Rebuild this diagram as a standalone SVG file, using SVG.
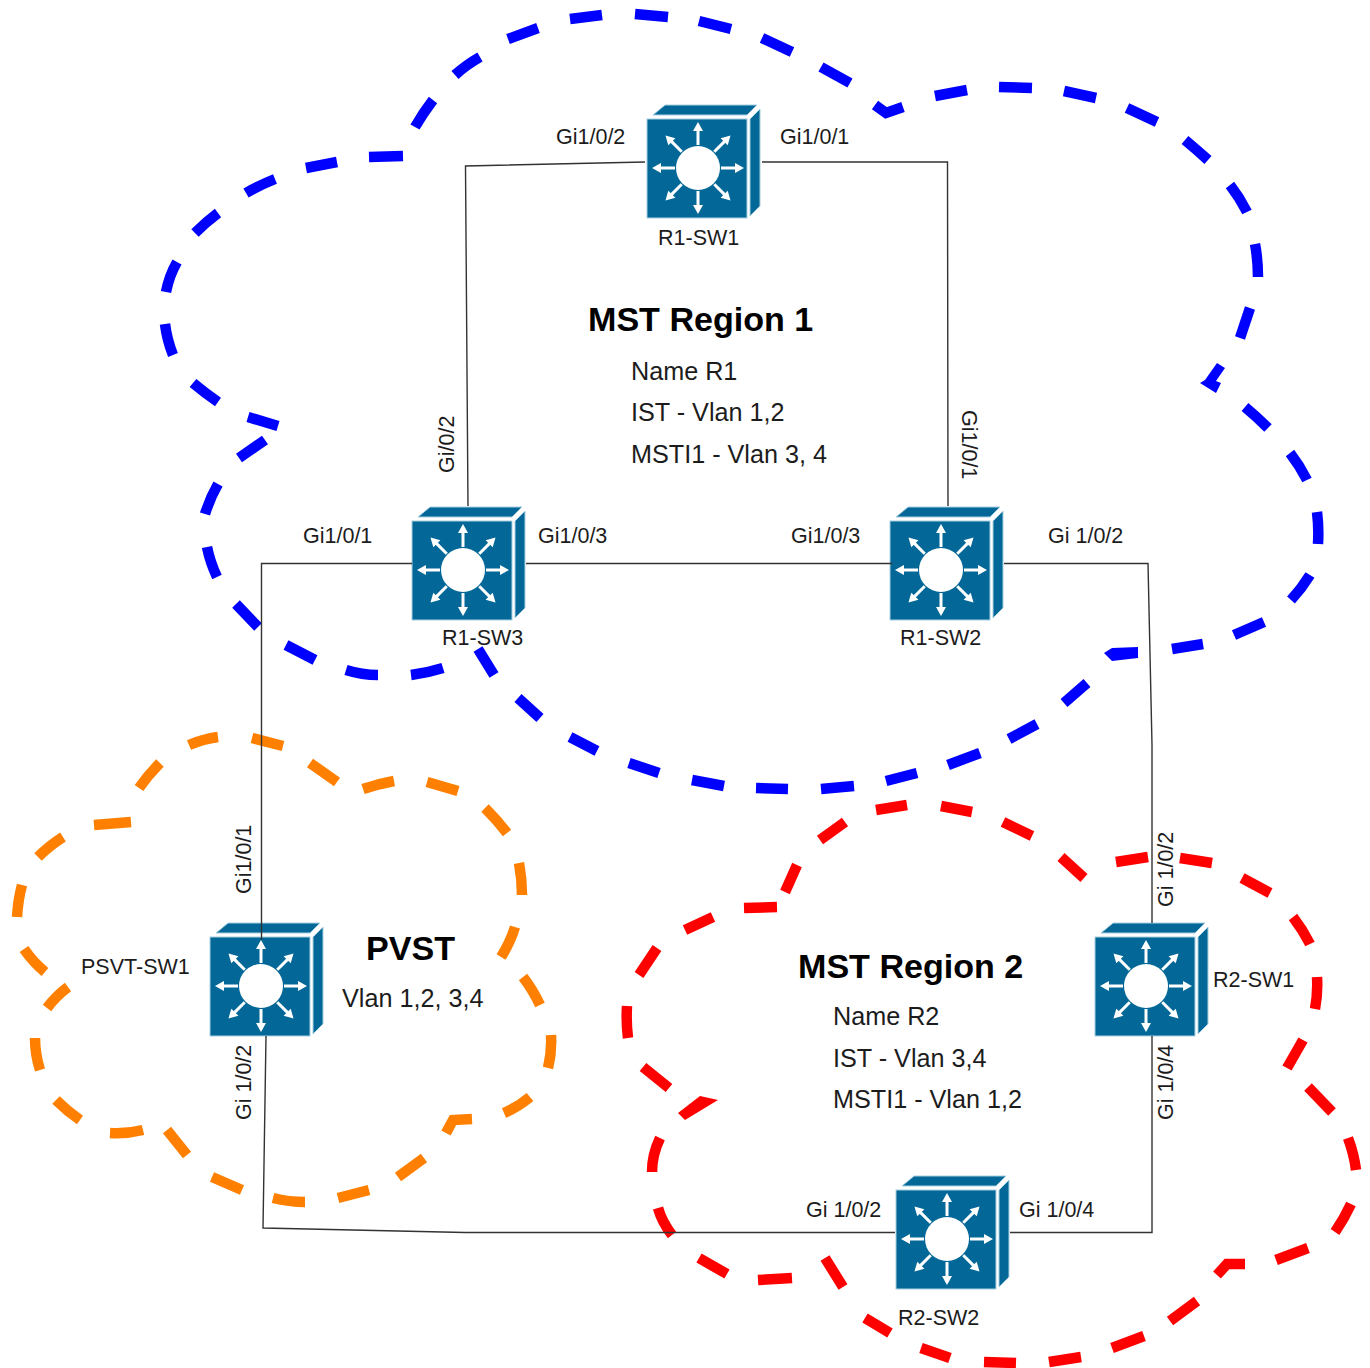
<svg xmlns="http://www.w3.org/2000/svg" xmlns:xlink="http://www.w3.org/1999/xlink" width="1370" height="1368" viewBox="0 0 1370 1368">
<style>
text{font-family:"Liberation Sans",Arial,Helvetica,sans-serif;fill:#1c1c1c;font-size:21.5px}
text.t{font-size:25.2px}
text.h{font-size:34.100px;font-weight:bold;fill:#000}
.cloud{fill:none;stroke-width:10.500;stroke-linecap:butt;stroke-linejoin:miter}
.blue{stroke:#0000ff}.orange{stroke:#ff8000}.red{stroke:#ff0000}
.fblue{fill:#0000ff}.fred{fill:#ff0000}
.link{fill:none;stroke:#333;stroke-width:1.4}
.sw{fill:#036897;stroke:#a8d0e2;stroke-width:1}
</style>
<defs>
<g id="arrow"><rect x="-1.500" y="-38" width="3" height="15" fill="#fff"/><polygon points="0,-46 -5,-37 5,-37" fill="#fff"/></g>
<g id="switch">
<polygon class="sw" points="-45,-53 -33,-63 59,-63 49,-53"/>
<polygon class="sw" points="52,-49 62,-59 62,38 52,48"/>
<rect class="sw" x="-51" y="-49" width="100" height="99"/>
<circle r="22" fill="#fff"/>
<use xlink:href="#arrow"/><use xlink:href="#arrow" transform="rotate(45)"/><use xlink:href="#arrow" transform="rotate(90)"/><use xlink:href="#arrow" transform="rotate(135)"/><use xlink:href="#arrow" transform="rotate(180)"/><use xlink:href="#arrow" transform="rotate(225)"/><use xlink:href="#arrow" transform="rotate(270)"/><use xlink:href="#arrow" transform="rotate(315)"/>
</g>
</defs>
<rect width="1370" height="1368" fill="#fff"/>
<g id="regions">
<path id="cloud-r1" class="cloud blue" d="M538,28L508,39M480,57Q466,65 455,75M433,100Q423,113 415,127M403,156L369,157M337,162L306,168M275,179Q260,185 246,193M218,213Q206,222 195,233M177,262Q169,276 166,292M165,324Q167,340 173,355M193,383Q205,393 218,402M248,417L278,426M265,440L239,458M218,484Q210,498 205,514M207,547Q210,562 217,577M236,604L258,627M286,645L315,660M346,670Q362,675 378,675M411,675Q427,673 443,668M478,649L494,675M518,698L540,718M570,737L597,751M629,763L659,773M692,780L724,786M756,788L788,789M821,789L854,786M886,781L917,773M948,765L980,753M1009,739L1037,724M1064,703L1087,683M1172,649L1203,644M1234,635L1264,622M1291,600Q1302,588 1310,575M1318,544Q1319,528 1317,512M1307,480Q1300,466 1290,453M1268,428Q1257,417 1245,407M1250,308L1240,338M1258,277Q1258,260 1255,244M1247,212Q1240,198 1230,185M1208,160Q1197,150 1185,140M1157,122L1127,108M1096,98L1064,91M1032,88L999,87M967,90L935,96M903,107L886,113L875,105M850,83L821,67M792,52L762,38M731,29L699,21M668,17L635,14M602,15L570,19"/>
<polygon class="fblue" points="1104,653 1112,648 1138,647 1138,658 1112,661"/>
<polygon class="fblue" points="1217,363 1225,368 1216,381 1221,383 1216,393 1200,383 1205,380"/>
<path id="cloud-pvst" class="cloud orange" d="M189,745Q203,739 218,737M252,738L283,746M310,763L337,782M363,789Q378,784 394,781M427,782L458,791M485,808Q497,820 507,833M519,863Q522,879 522,895M515,927Q510,943 501,957M523,977Q533,990 540,1005M551,1035Q552,1052 548,1068M530,1097Q518,1107 504,1113M472,1119L453,1120L446,1133M424,1158L398,1177M369,1190L338,1198M305,1202Q289,1202 273,1198M242,1190L212,1177M187,1155L167,1130M143,1130Q127,1134 110,1133M80,1120Q67,1111 56,1100M40,1070Q35,1054 35,1038M68,987Q56,996 47,1008M45,972Q33,962 24,949M17,917Q18,900 22,885M38,857Q49,846 63,837M94,825L131,822M139,788Q148,775 160,763"/>
<path id="cloud-r2" class="cloud red" d="M907,805L876,810M972,812L941,806M1032,836L1003,822M1061,857L1084,878M1116,862L1148,857M1180,858L1212,863M1242,878L1270,893M1293,917Q1303,930 1310,944M1317,977Q1318,993 1315,1009M1303,1040L1287,1068M1308,1087L1332,1112M1348,1138Q1354,1154 1356,1170M1351,1204Q1344,1219 1335,1232M1308,1248L1276,1260M1245,1264L1227,1264L1217,1275M1197,1301L1170,1321M1144,1336L1112,1348M1081,1357L1049,1362M1016,1363L984,1362M950,1358L921,1348M890,1333L865,1318M843,1287L825,1258M792,1278L758,1280M727,1274L699,1258M672,1235Q662,1222 658,1208M652,1172Q652,1155 660,1138M669,1088L643,1067M628,1038Q626,1022 627,1006M639,975L657,948M685,930L713,917M744,908L777,907M785,892L797,865M820,840L845,822"/>
<polygon class="fred" points="700,1096 718,1100 685,1120 678,1113"/>
</g>
<g id="R1-SW1"><use xlink:href="#switch" transform="translate(698,168)"/><text x="658" y="245">R1-SW1</text></g>
<g id="R1-SW3"><use xlink:href="#switch" transform="translate(463,570)"/><text x="442" y="645">R1-SW3</text></g>
<g id="R1-SW2"><use xlink:href="#switch" transform="translate(941,570)"/><text x="900" y="645">R1-SW2</text></g>
<g id="PSVT-SW1"><use xlink:href="#switch" transform="translate(261,986)"/><text x="81" y="974">PSVT-SW1</text></g>
<g id="R2-SW1"><use xlink:href="#switch" transform="translate(1146,986)"/><text x="1213" y="987">R2-SW1</text></g>
<g id="R2-SW2"><use xlink:href="#switch" transform="translate(947,1239)"/><text x="898" y="1325">R2-SW2</text></g>
<g id="connectors">
<path class="link" d="M645,162L465.500,166L468,506"/>
<path class="link" d="M762,162H947.500L948,506"/>
<path class="link" d="M412,563.500H261.500V940"/>
<path class="link" d="M526,563.500H892"/>
<path class="link" d="M1004,563.500H1148L1152,745V923"/>
<path class="link" d="M266,1036L263,1228L465,1232.500H895"/>
<path class="link" d="M1010,1232.500H1152V1036"/>
</g>
<g id="port-labels">
<text x="556" y="144">Gi1/0/2</text>
<text x="780" y="144">Gi1/0/1</text>
<text transform="translate(454,473) rotate(-90)">Gi/0/2</text>
<text transform="translate(962,410) rotate(90)">Gi1/0/1</text>
<text x="303" y="543">Gi1/0/1</text>
<text x="538" y="543">Gi1/0/3</text>
<text x="791" y="543">Gi1/0/3</text>
<text x="1048" y="543">Gi 1/0/2</text>
<text transform="translate(251,894) rotate(-90)">Gi1/0/1</text>
<text transform="translate(251,1120) rotate(-90)">Gi 1/0/2</text>
<text transform="translate(1173,907) rotate(-90)">Gi 1/0/2</text>
<text transform="translate(1173,1120) rotate(-90)">Gi 1/0/4</text>
<text x="806" y="1217">Gi 1/0/2</text>
<text x="1019" y="1217">Gi 1/0/4</text>
</g>
<g id="region-text">
<text class="h" x="588" y="331">MST Region 1</text>
<text class="t" x="631" y="380">Name R1</text>
<text class="t" x="631" y="421">IST - Vlan 1,2</text>
<text class="t" x="631" y="463">MSTI1 - Vlan 3, 4</text>
<text class="h" x="366" y="960">PVST</text>
<text class="t" x="342" y="1007">Vlan 1,2, 3,4</text>
<text class="h" x="798" y="978">MST Region 2</text>
<text class="t" x="833" y="1025">Name R2</text>
<text class="t" x="833" y="1067">IST - Vlan 3,4</text>
<text class="t" x="833" y="1108">MSTI1 - Vlan 1,2</text>
</g>
</svg>
